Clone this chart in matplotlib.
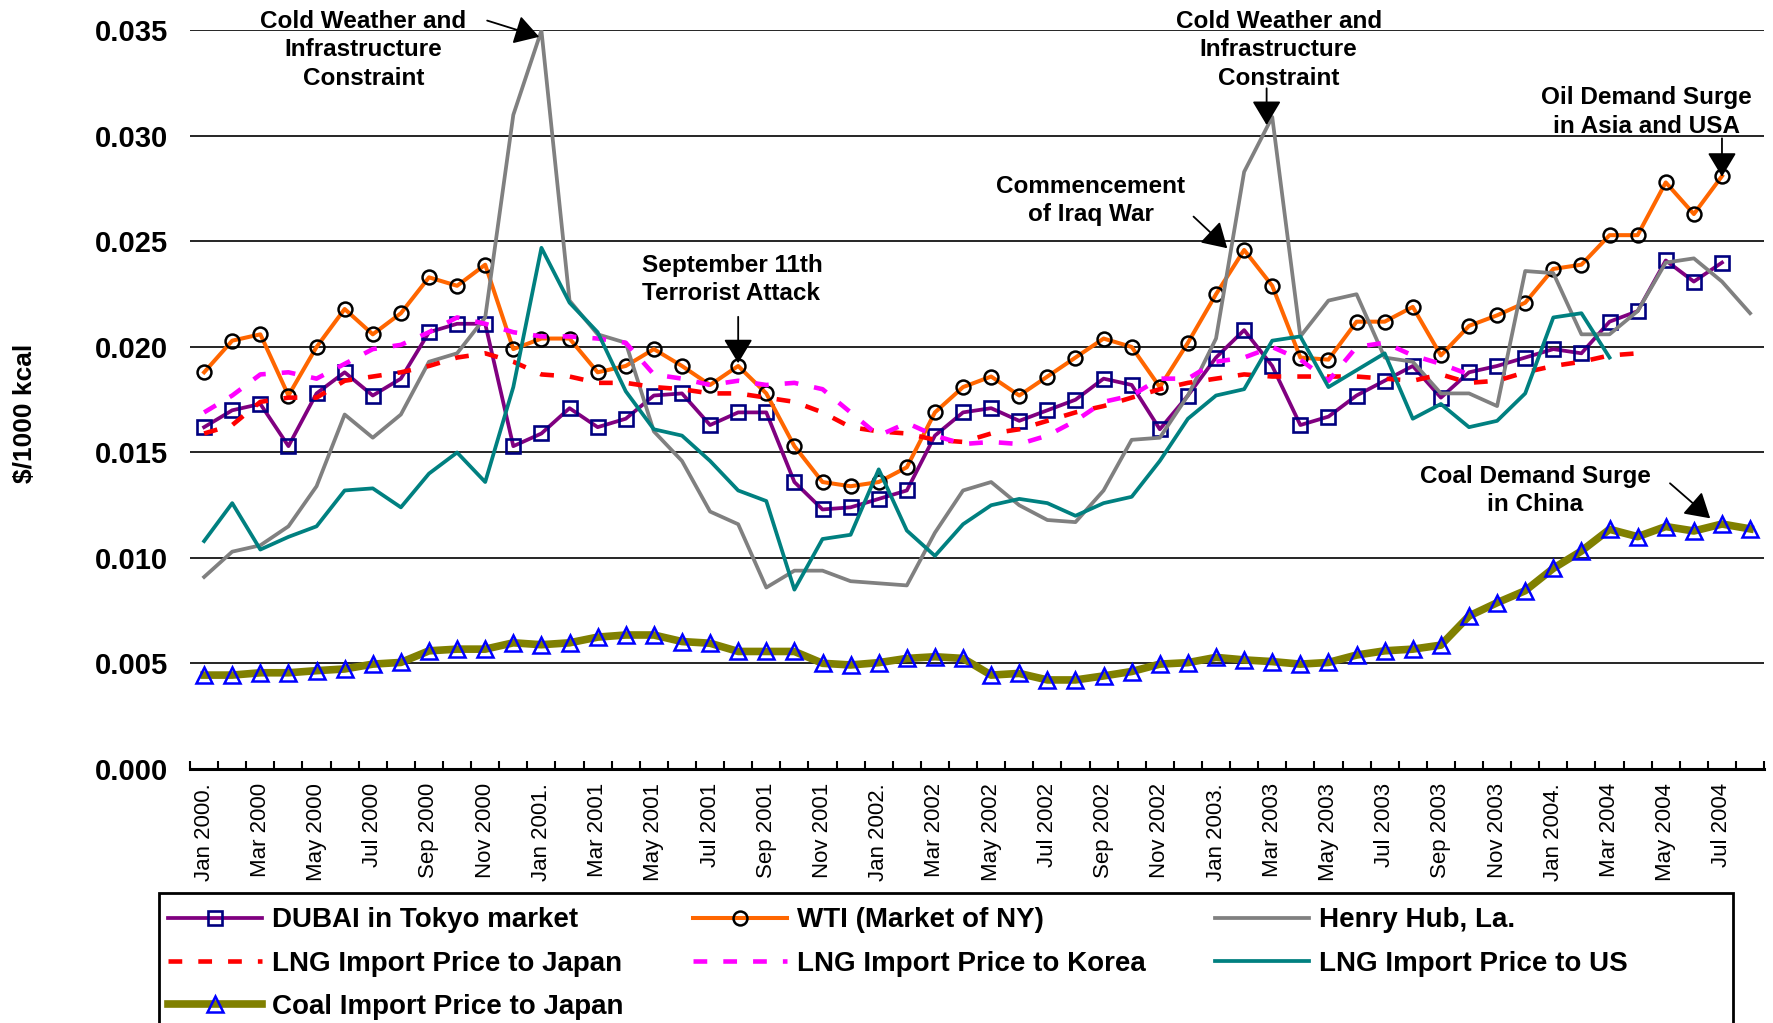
import numpy as np
import matplotlib
matplotlib.use("Agg")
import matplotlib.pyplot as plt
from matplotlib.patches import Rectangle

plt.rcParams["font.family"] = ["Liberation Sans", "DejaVu Sans"]

nan = np.nan

# monthly values, Jan 2000 .. Aug 2004 ($/1000 kcal)
DUBAI = [0.0162, 0.0170, 0.0173, 0.0153, 0.0178, 0.0188, 0.0177, 0.0185, 0.0207, 0.0211,
         0.0211, 0.0153, 0.0159, 0.0171, 0.0162, 0.0166, 0.0177, 0.0178, 0.0163, 0.0169,
         0.0169, 0.0136, 0.0123, 0.0124, 0.0128, 0.0132, 0.0158, 0.0169, 0.0171, 0.0165,
         0.0170, 0.0175, 0.0185, 0.0182, 0.0161, 0.0177, 0.0195, 0.0208, 0.0191, 0.0163,
         0.0167, 0.0177, 0.0184, 0.0191, 0.0176, 0.0188, 0.0191, 0.0195, 0.0199, 0.0197,
         0.0212, 0.0217, 0.0241, 0.0231, 0.0240, nan]
WTI = [0.0188, 0.0203, 0.0206, 0.0177, 0.0200, 0.0218, 0.0206, 0.0216, 0.0233, 0.0229,
       0.0239, 0.0199, 0.0204, 0.0204, 0.0188, 0.0191, 0.0199, 0.0191, 0.0182, 0.0191,
       0.0178, 0.0153, 0.0136, 0.0134, 0.0136, 0.0143, 0.0169, 0.0181, 0.0186, 0.0177,
       0.0186, 0.0195, 0.0204, 0.0200, 0.0181, 0.0202, 0.0225, 0.0246, 0.0229, 0.0195,
       0.0194, 0.0212, 0.0212, 0.0219, 0.0196, 0.0210, 0.0215, 0.0221, 0.0237, 0.0239,
       0.0253, 0.0253, 0.0278, 0.0263, 0.0281, nan]
HENRY = [0.0091, 0.0103, 0.0106, 0.0115, 0.0134, 0.0168, 0.0157, 0.0168, 0.0193, 0.0197,
         0.0214, 0.0310, 0.0350, 0.0222, 0.0206, 0.0202, 0.0160, 0.0146, 0.0122, 0.0116,
         0.0086, 0.0094, 0.0094, 0.0089, 0.0088, 0.0087, 0.0112, 0.0132, 0.0136, 0.0125,
         0.0118, 0.0117, 0.0132, 0.0156, 0.0157, 0.0177, 0.0204, 0.0283, 0.0309, 0.0205,
         0.0222, 0.0225, 0.0195, 0.0193, 0.0178, 0.0178, 0.0172, 0.0236, 0.0235, 0.0206,
         0.0206, 0.0217, 0.0240, 0.0242, 0.0231, 0.0216]
LNG_JAPAN = [0.0159, 0.0163, 0.0174, 0.0176, 0.0176, 0.0184, 0.0186, 0.0188, 0.0191, 0.0195,
             0.0197, 0.0193, 0.0187, 0.0186, 0.0183, 0.0183, 0.0181, 0.0180, 0.0178, 0.0178,
             0.0176, 0.0174, 0.0169, 0.0162, 0.0160, 0.0159, 0.0156, 0.0155, 0.0159, 0.0161,
             0.0165, 0.0169, 0.0172, 0.0176, 0.0180, 0.0183, 0.0185, 0.0187, 0.0186, 0.0186,
             0.0186, 0.0186, 0.0185, 0.0184, 0.0187, 0.0183, 0.0184, 0.0188, 0.0191, 0.0193,
             0.0196, 0.0197, nan, nan, nan, nan]
LNG_KOREA = [0.0169, 0.0177, 0.0187, 0.0188, 0.0185, 0.0192, 0.0199, 0.0201, 0.0207, 0.0214,
             0.0211, 0.0207, 0.0205, 0.0205, 0.0204, 0.0202, 0.0187, 0.0185, 0.0182, 0.0184,
             0.0182, 0.0183, 0.0180, 0.0169, 0.0158, 0.0164, 0.0158, 0.0154, 0.0155, 0.0154,
             0.0158, 0.0165, 0.0174, 0.0177, 0.0185, 0.0185, 0.0193, 0.0195, 0.0200, 0.0194,
             0.0184, 0.0200, 0.0202, 0.0196, 0.0192, 0.0187, nan, nan, nan, nan,
             nan, nan, nan, nan, nan, nan]
LNG_US = [0.0108, 0.0126, 0.0104, 0.0110, 0.0115, 0.0132, 0.0133, 0.0124, 0.0140, 0.0150,
          0.0136, 0.0181, 0.0247, 0.0221, 0.0207, 0.0179, 0.0161, 0.0158, 0.0146, 0.0132,
          0.0127, 0.0085, 0.0109, 0.0111, 0.0142, 0.0113, 0.0101, 0.0116, 0.0125, 0.0128,
          0.0126, 0.0120, 0.0126, 0.0129, 0.0146, 0.0166, 0.0177, 0.0180, 0.0203, 0.0205,
          0.0181, 0.0189, 0.0197, 0.0166, 0.0173, 0.0162, 0.0165, 0.0178, 0.0214, 0.0216,
          0.0195, nan, nan, nan, nan, nan]
COAL = [0.00445, 0.00445, 0.00456, 0.00456, 0.00466, 0.00474, 0.00497, 0.00505, 0.00560, 0.00568,
        0.00568, 0.00598, 0.00589, 0.00598, 0.00625, 0.00635, 0.00635, 0.00604, 0.00596, 0.00557,
        0.00557, 0.00557, 0.00501, 0.00493, 0.00504, 0.00524, 0.00532, 0.00524, 0.00445, 0.00453,
        0.00422, 0.00422, 0.00441, 0.00462, 0.00497, 0.00504, 0.00529, 0.00517, 0.00509, 0.00497,
        0.00505, 0.00540, 0.00560, 0.00568, 0.00587, 0.00725, 0.00788, 0.00845, 0.00951, 0.01033,
        0.01136, 0.01101, 0.01149, 0.01128, 0.01161, 0.01138]

TICK_LABELS = ["Jan 2000.", "Mar 2000", "May 2000", "Jul 2000", "Sep 2000", "Nov 2000",
               "Jan 2001.", "Mar 2001", "May 2001", "Jul 2001", "Sep 2001", "Nov 2001",
               "Jan 2002.", "Mar 2002", "May 2002", "Jul 2002", "Sep 2002", "Nov 2002",
               "Jan 2003.", "Mar 2003", "May 2003", "Jul 2003", "Sep 2003", "Nov 2003",
               "Jan 2004.", "Mar 2004", "May 2004", "Jul 2004"]

# (text, x, y, ha) and arrows (tail -> tip) in data coordinates
NOTES = [
    ("Cold Weather and\nInfrastructure\nConstraint", 5.67, 0.03408, "center"),
    ("September 11th\nTerrorist Attack", 15.58, 0.0232, "left"),
    ("Commencement\nof Iraq War", 31.55, 0.02693, "center"),
    ("Cold Weather and\nInfrastructure\nConstraint", 38.23, 0.03408, "center"),
    ("Oil Demand Surge\nin Asia and USA", 51.3, 0.03114, "center"),
    ("Coal Demand Surge\nin China", 47.36, 0.0132, "center"),
]
ARROWS = [
    ((10.07, 0.03547), (11.92, 0.0347)),
    ((19.0, 0.02143), (19.0, 0.01923)),
    ((35.2, 0.02618), (36.4, 0.02468)),
    ((37.8, 0.03226), (37.8, 0.03052)),
    ((54.0, 0.02989), (54.0, 0.02807)),
    ((52.15, 0.01354), (53.58, 0.01188)),
]

x = np.arange(len(COAL))

fig = plt.figure(figsize=(17.73, 10.23), dpi=100)
ax = fig.add_axes([0.1072, 0.2483, 0.8878, 0.7219])

h_dubai, = ax.plot(x, DUBAI, color="#800080", lw=2.7, marker="s", ms=9.5, mfc="none",
                   mec="#000080", mew=1.9, label="DUBAI in Tokyo market")
h_wti, = ax.plot(x, WTI, color="#FF6600", lw=2.9, marker="o", ms=10, mfc="none",
                 mec="black", mew=1.8, label="WTI (Market of NY)")
h_henry, = ax.plot(x, HENRY, color="#808080", lw=2.7, label="Henry Hub, La.")
h_lngj, = ax.plot(x, LNG_JAPAN, color="#FF0000", lw=3.3, ls=(0, (3, 3.5)),
                  label="LNG Import Price to Japan")
h_lngk, = ax.plot(x, LNG_KOREA, color="#FF00FF", lw=3.3, ls=(0, (3, 3.5)),
                  label="LNG Import Price to Korea")
h_us, = ax.plot(x, LNG_US, color="#008080", lw=2.7, label="LNG Import Price to US")
h_coal, = ax.plot(x, COAL, color="#808000", lw=5.5, marker="^", ms=11, mfc="none",
                  mec="#0000FF", mew=1.8, label="Coal Import Price to Japan")

ax.set_xlim(-0.5, len(COAL) - 0.5)
ax.set_ylim(0, 0.035)
ax.set_yticks(np.arange(0, 0.0351, 0.005))
ax.set_yticklabels([f"{v:.3f}" for v in np.arange(0, 0.0351, 0.005)],
                   fontsize=21, fontweight="bold")
ax.tick_params(axis="y", length=0, pad=16)
ax.set_xticks(x[::2])
ax.set_xticklabels(TICK_LABELS, rotation=90, fontsize=16)
ax.set_xticks(np.arange(-0.5, len(COAL)), minor=True)
ax.tick_params(axis="x", which="major", length=0, pad=10)
ax.tick_params(axis="x", which="minor", direction="in", length=6, width=1.5)
ax.yaxis.grid(True, color="black", lw=1.2)
ax.set_axisbelow(True)
for side in ("left", "right", "top"):
    ax.spines[side].set_visible(False)
ax.spines["bottom"].set_linewidth(2.2)

for text, tx, ty, ha in NOTES:
    ax.text(tx, ty, text, ha=ha, va="center", multialignment=ha, fontsize=17.5,
            fontweight="bold", linespacing=1.3)
for tail, tip in ARROWS:
    ax.annotate("", xy=tip, xytext=tail, annotation_clip=False,
                arrowprops=dict(arrowstyle="-|>,head_length=0.75,head_width=0.45",
                                mutation_scale=20, lw=1.3, color="black",
                                shrinkA=0, shrinkB=0))

fig.text(0.014, 0.596, r"\$/1000 kcal", rotation=90, ha="center", va="center",
         fontsize=19, fontweight="bold")

handles = [h_dubai, h_lngj, h_coal, h_wti, h_lngk, h_henry, h_us]
fig.legend(handles, [h.get_label() for h in handles], loc="upper left",
           bbox_to_anchor=(0.0945, 0.113), ncol=3, frameon=False,
           prop={"weight": "bold", "size": 20}, handlelength=3.4, handletextpad=0.35,
           columnspacing=2.5, labelspacing=0.62, borderpad=0, borderaxespad=0)
fig.patches.append(Rectangle((159 / 1773, -0.05), (1733 - 159) / 1773, 0.05 + 1 - 893 / 1023,
                             transform=fig.transFigure, fill=False, ec="black", lw=2))

fig.savefig("out.png", dpi=100)
